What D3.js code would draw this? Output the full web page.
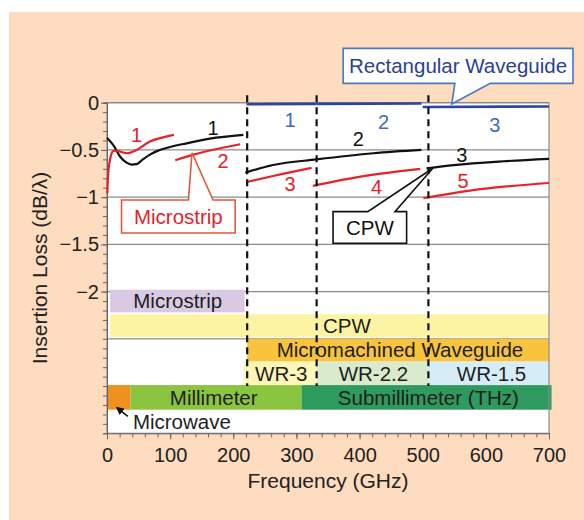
<!DOCTYPE html>
<html>
<head>
<meta charset="utf-8">
<script src="https://cdn.jsdelivr.net/npm/d3@7"></script>
<style>
  body { margin: 0; background: #fff; }
  svg { font-family: "Liberation Sans", Arial, sans-serif; }
</style>
</head>
<body>
<svg width="584" height="520"></svg>
<script>
// ---- data (GHz, dB/lambda) ----
var xTicks = [0, 100, 200, 300, 400, 500, 600, 700];
var yLabelTicks = [0, -0.5, -1, -1.5, -2];
var gridValues = [0, -0.5, -1, -1.5, -2, -2.5, -3];
var bandEdges = [222, 332, 509];

var cpw1 = [[0,-0.37],[10,-0.45],[20.6,-0.57],[31,-0.635],[39,-0.655],[47,-0.65],[55,-0.61],[68,-0.55],[80,-0.51],[94,-0.48],[126,-0.43],[163,-0.38],[216,-0.34]];
var cpw2 = [[219,-0.74],[263,-0.66],[332,-0.60],[422,-0.535],[498,-0.50]];
var cpw3 = [[506,-0.695],[549,-0.66],[628,-0.62],[700,-0.595]];
var ms1 = [[0.5,-0.96],[2.1,-0.73],[7.4,-0.535],[10,-0.51],[15,-0.51],[31,-0.535],[47,-0.50],[68,-0.41],[87,-0.37],[106,-0.34]];
var ms2 = [[108,-0.61],[137,-0.55],[174,-0.49],[211,-0.44]];
var ms3 = [[221,-0.84],[263,-0.776],[324,-0.69]];
var ms4 = [[326,-0.88],[395,-0.79],[496,-0.70]];
var ms5 = [[501,-1.01],[575,-0.93],[700,-0.85]];
var rwg1 = [[221,-0.017],[332,-0.012]];
var rwg2 = [[332,-0.012],[498,-0.008]];
var rwg3 = [[500,-0.045],[700,-0.04]];

// curve number labels: [f, v, text, kind]
var curveLabels = [
  [47,-0.34,"1","ms"],[168,-0.27,"1","cpw"],[184,-0.62,"2","ms"],
  [290,-0.18,"1","rwg"],[438,-0.20,"2","rwg"],[614,-0.24,"3","rwg"],
  [398,-0.38,"2","cpw"],[290,-0.86,"3","ms"],[427,-0.89,"4","ms"],
  [562,-0.55,"3","cpw"],[564,-0.83,"5","ms"]
];

// technology / band bars: [f0, f1, vTop, vBottom, label, labelF, anchor, fill]
var bands = [
  [5, 218, -1.98, -2.22, "Microstrip", 112, "middle", "#d9c9e2"],
  [5, 700, -2.24, -2.48, "CPW", 342, "start", "#fcf4a2"],
  [222, 700, -2.50, -2.74, "Micromachined Waveguide", 464, "middle", "#f8c43e"],
  [216, 332, -2.74, -3.0, "WR-3", 276, "middle", "#fdf6b6"],
  [332, 509, -2.74, -3.0, "WR-2.2", 422, "middle", "#d9eacd"],
  [509, 700, -2.74, -3.0, "WR-1.5", 609, "middle", "#d6edf7"],
  [0, 37, -2.99, -3.25, "", 0, "middle", "#f0901e"],
  [37, 308, -2.99, -3.25, "Millimeter", 169, "middle", "#8bc43f"],
  [308, 704, -2.99, -3.25, "Submillimeter (THz)", 509, "middle", "#2f9a5e"]
];

var svg = d3.select("svg");
var x = d3.scaleLinear().domain([0, 700]).range([107, 549]);
var y = d3.scaleLinear().domain([-3.5, 0]).range([433.3, 102.7]);
var fmt = function(d) { return d === 0 ? "0" : d3.format("")(d); };

// peach panel
svg.append("rect").attr("x", 9).attr("y", 12).attr("width", 575).attr("height", 508).attr("fill", "#fddcbf");

// plot area
svg.append("rect").attr("x", x(0)).attr("y", y(0)).attr("width", x(700) - x(0)).attr("height", y(-3.5) - y(0)).attr("fill", "#fff");

svg.selectAll(".grid").data(gridValues).enter().append("line")
  .attr("x1", x(0)).attr("x2", x(700))
  .attr("y1", function(d) { return y(d); }).attr("y2", function(d) { return y(d); })
  .attr("stroke", "#8c8c8c").attr("stroke-width", 1.2);

// bands
svg.selectAll(".band").data(bands).enter().append("rect")
  .attr("x", function(d) { return x(d[0]); })
  .attr("y", function(d) { return y(d[2]); })
  .attr("width", function(d) { return x(d[1]) - x(d[0]); })
  .attr("height", function(d) { return y(d[3]) - y(d[2]); })
  .attr("fill", function(d) { return d[7]; });

// frame
svg.append("rect").attr("x", x(0)).attr("y", y(0)).attr("width", x(700) - x(0)).attr("height", y(-3.5) - y(0))
  .attr("fill", "none").attr("stroke", "#8c8c8c").attr("stroke-width", 1.2);

// axes
var yMinor = d3.range(0, 36).map(function(i) { return -i / 10; });
svg.append("g").attr("transform", "translate(" + x(0) + ",0)")
  .call(d3.axisLeft(y).tickValues(yMinor).tickSize(4).tickFormat(""))
  .call(function(g) { g.select(".domain").attr("stroke", "#666"); g.selectAll("line").attr("stroke", "#666"); });
svg.append("g").attr("transform", "translate(" + x(0) + ",0)")
  .call(d3.axisLeft(y).tickValues(yLabelTicks).tickSize(6).tickPadding(2).tickFormat(fmt))
  .call(function(g) {
    g.select(".domain").remove();
    g.selectAll("line").attr("stroke", "#666");
    g.selectAll("text").attr("font-size", 20).attr("fill", "#222").attr("font-family", "Liberation Sans, Arial, sans-serif");
  });

var xMinor = d3.range(0, 701, 20);
svg.append("g").attr("transform", "translate(0," + y(-3.5) + ")")
  .call(d3.axisBottom(x).tickValues(xMinor).tickSize(4).tickFormat(""))
  .call(function(g) { g.select(".domain").attr("stroke", "#666"); g.selectAll("line").attr("stroke", "#666"); });
svg.append("g").attr("transform", "translate(0," + y(-3.5) + ")")
  .call(d3.axisBottom(x).tickValues(xTicks).tickSize(6).tickPadding(9))
  .call(function(g) {
    g.select(".domain").remove();
    g.selectAll("line").attr("stroke", "#666");
    g.selectAll("text").attr("font-size", 20).attr("fill", "#222").attr("font-family", "Liberation Sans, Arial, sans-serif");
  });

svg.append("text").attr("x", (x(0) + x(700)) / 2).attr("y", 488).attr("text-anchor", "middle")
  .attr("font-size", 21).attr("fill", "#222").text("Frequency (GHz)");
svg.append("text").attr("transform", "translate(47," + (y(0) + y(-3.5)) / 2 + ") rotate(-90)")
  .attr("text-anchor", "middle").attr("font-size", 21).attr("fill", "#222").text("Insertion Loss (dB/\u03bb)");

// band labels
svg.selectAll(".bandLabel").data(bands.filter(function(d) { return d[4]; })).enter().append("text")
  .attr("x", function(d) { return x(d[5]); })
  .attr("y", function(d) { return (y(d[2]) + y(d[3])) / 2; })
  .attr("dy", "0.35em")
  .attr("text-anchor", function(d) { return d[6]; })
  .attr("font-size", 20.5).attr("fill", "#1e1e1e")
  .text(function(d) { return d[4]; });

// Microwave label with arrow
svg.append("defs").append("marker").attr("id", "arr").attr("viewBox", "0 0 10 10")
  .attr("refX", 8).attr("refY", 5).attr("markerWidth", 5).attr("markerHeight", 5).attr("orient", "auto")
  .append("path").attr("d", "M0,0L10,5L0,10Z").attr("fill", "#111");
svg.append("line").attr("x1", x(33)).attr("y1", y(-3.32)).attr("x2", x(16)).attr("y2", y(-3.23))
  .attr("stroke", "#111").attr("stroke-width", 1.6).attr("marker-end", "url(#arr)");
svg.append("text").attr("x", x(41)).attr("y", y(-3.38)).attr("dy", "0.35em")
  .attr("font-size", 20.5).attr("fill", "#1e1e1e").text("Microwave");

// curves
var line = d3.line().x(function(d) { return x(d[0]); }).y(function(d) { return y(d[1]); }).curve(d3.curveMonotoneX);
var series = [
  [cpw1, "#111"], [cpw2, "#111"], [cpw3, "#111"],
  [ms1, "#e8202a"], [ms2, "#e8202a"], [ms3, "#e8202a"], [ms4, "#e8202a"], [ms5, "#e8202a"],
  [rwg1, "#2c45a3"], [rwg2, "#2c45a3"], [rwg3, "#2c45a3"]
];
svg.selectAll(".curve").data(series).enter().append("path")
  .attr("d", function(d) { return line(d[0]); })
  .attr("fill", "none")
  .attr("stroke", function(d) { return d[1]; })
  .attr("stroke-width", function(d) { return d[1] === "#2c45a3" ? 2.6 : 2.2; });

// dashed band edges (they poke slightly above the frame)
svg.selectAll(".edge").data(bandEdges).enter().append("line")
  .attr("x1", function(d) { return x(d); }).attr("x2", function(d) { return x(d); })
  .attr("y1", y(0.08)).attr("y2", y(-3))
  .attr("stroke", "#111").attr("stroke-width", 2.2).attr("stroke-dasharray", "7,5");

// curve labels
var labelColor = { ms: "#e8202a", cpw: "#111", rwg: "#3c6cc0" };
svg.selectAll(".clabel").data(curveLabels).enter().append("text")
  .attr("x", function(d) { return x(d[0]); })
  .attr("y", function(d) { return y(d[1]); })
  .attr("dy", "0.35em").attr("text-anchor", "middle")
  .attr("font-size", 20).attr("fill", function(d) { return labelColor[d[3]]; })
  .text(function(d) { return d[2]; });

// callouts: box [f0, f1, vTop, vBottom], tail base [fa, fb], tip [f, v], side
var callouts = [
  { box: [23, 203, -1.03, -1.38], base: [129, 168], tip: [134.6, -0.53], side: "top", text: "Microstrip", stroke: "#e0583c", color: "#e3232b" },
  { box: [358, 474.5, -1.153, -1.488], base: [413, 456], tip: [516, -0.694], side: "top", text: "CPW", stroke: "#111", color: "#111" },
  { box: [374, 738, 0.575, 0.205], base: [551, 607], tip: [546, -0.014], side: "bottom", text: "Rectangular Waveguide", stroke: "#4a78c2", color: "#2b3f90" }
];
callouts.forEach(function(c) {
  var l = x(c.box[0]), r = x(c.box[1]), t = y(c.box[2]), b = y(c.box[3]);
  var a = x(c.base[0]), bb = x(c.base[1]), tx = x(c.tip[0]), ty = y(c.tip[1]);
  var p = d3.path();
  if (c.side === "top") {
    p.moveTo(l, t); p.lineTo(a, t); p.lineTo(tx, ty); p.lineTo(bb, t); p.lineTo(r, t);
    p.lineTo(r, b); p.lineTo(l, b); p.closePath();
  } else {
    p.moveTo(l, t); p.lineTo(r, t); p.lineTo(r, b); p.lineTo(bb, b); p.lineTo(tx, ty);
    p.lineTo(a, b); p.lineTo(l, b); p.closePath();
  }
  svg.append("path").attr("d", p.toString()).attr("fill", "#fff").attr("stroke", c.stroke).attr("stroke-width", 1.6);
  svg.append("text").attr("x", (l + r) / 2).attr("y", (t + b) / 2).attr("dy", "0.35em")
    .attr("text-anchor", "middle").attr("font-size", 20.5).attr("fill", c.color).text(c.text);
});
</script>
</body>
</html>
